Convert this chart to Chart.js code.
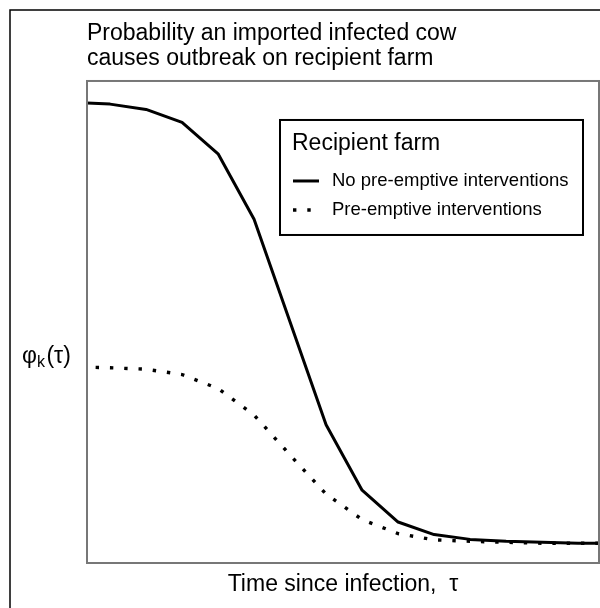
<!DOCTYPE html>
<html>
<head>
<meta charset="utf-8">
<script src="https://cdn.jsdelivr.net/npm/chart.js@4"></script>
<style>
  html, body { margin: 0; padding: 0; background: #fff; }
  #wrap { width: 600px; height: 608px; }
</style>
</head>
<body>
<div id="wrap"><canvas id="chart" width="600" height="608"></canvas></div>
<script>
// time since infection (days)
const tau = [0, 1, 2, 3, 4, 5, 6, 7, 8, 9, 10, 11, 12, 13, 14, 15];
// probability of outbreak
const noPreemptive = [0.956, 0.952, 0.941, 0.914, 0.849, 0.713, 0.500, 0.287, 0.151, 0.085, 0.059, 0.049, 0.045, 0.043, 0.041, 0.041];
const preemptive   = [0.407, 0.405, 0.402, 0.391, 0.362, 0.307, 0.224, 0.143, 0.090, 0.061, 0.048, 0.045, 0.043, 0.041, 0.041, 0.041];
const seriesLabels = ['No pre-emptive interventions', 'Pre-emptive interventions'];
const legendTitle = 'Recipient farm';
const titleLines = ['Probability an imported infected cow', 'causes outbreak on recipient farm'];
const xLabel = 'Time since infection,  \u03c4';

const FONT = "'Liberation Sans', Arial, sans-serif";

const toPoints = vals => tau.map((t, i) => ({ x: t, y: vals[i] }));

// frame, plot box, y label and legend
const decor = {
    id: 'decor',
    afterDraw(chart) {
        const ctx = chart.ctx;
        const a = chart.chartArea;
        ctx.save();

        // outer frame
        ctx.strokeStyle = '#000';
        ctx.lineWidth = 1.5;
        ctx.strokeRect(10, 10, 800, 800);

        // plot box
        ctx.strokeStyle = '#777';
        ctx.lineWidth = 2;
        ctx.strokeRect(a.left, a.top, a.right - a.left, a.bottom - a.top);

        // y label  φk(τ)
        ctx.fillStyle = '#000';
        ctx.textBaseline = 'alphabetic';
        ctx.textAlign = 'left';
        let x = 22;
        const base = 363;
        ctx.font = `23px ${FONT}`;
        ctx.fillText('\u03c6', x, base);
        x += ctx.measureText('\u03c6').width;
        ctx.font = `16px ${FONT}`;
        ctx.fillText('k', x, base + 4);
        x += ctx.measureText('k').width + 1.5;
        ctx.font = `23px ${FONT}`;
        ctx.fillText('(\u03c4)', x, base);

        // legend
        const bx = a.right - 319, by = a.top + 39, bw = 303, bh = 115;
        ctx.fillStyle = '#fff';
        ctx.fillRect(bx, by, bw, bh);
        ctx.strokeStyle = '#000';
        ctx.lineWidth = 2;
        ctx.strokeRect(bx, by, bw, bh);

        ctx.fillStyle = '#000';
        ctx.textBaseline = 'middle';
        ctx.font = `23px ${FONT}`;
        ctx.fillText(legendTitle, bx + 12, by + 24);

        ctx.font = `18.5px ${FONT}`;
        chart.data.datasets.forEach((ds, i) => {
            const y = by + 61 + i * 29;
            ctx.beginPath();
            ctx.strokeStyle = ds.borderColor;
            ctx.lineWidth = ds.borderWidth;
            ctx.lineCap = 'butt';
            ctx.setLineDash(ds.borderDash || []);
            ctx.moveTo(bx + 13, y);
            ctx.lineTo(bx + 39, y);
            ctx.stroke();
            ctx.setLineDash([]);
            ctx.fillText(ds.label, bx + 52, y);
        });

        ctx.restore();
    }
};

new Chart(document.getElementById('chart'), {
    type: 'line',
    data: {
        datasets: [
            {
                label: seriesLabels[0],
                data: toPoints(noPreemptive),
                borderColor: '#000',
                borderWidth: 3,
                borderJoinStyle: 'round',
                pointRadius: 0,
                tension: 0,
                fill: false
            },
            {
                label: seriesLabels[1],
                data: toPoints(preemptive),
                borderColor: '#000',
                borderWidth: 3.4,
                borderDash: [3.4, 10.9],
                borderDashOffset: 7,
                borderCapStyle: 'butt',
                pointRadius: 0,
                tension: 0,
                fill: false
            }
        ]
    },
    options: {
        responsive: false,
        animation: false,
        devicePixelRatio: 1,
        layout: { padding: { left: 87, right: 1, top: 0, bottom: 0 } },
        plugins: {
            legend: { display: false },
            tooltip: { enabled: false },
            title: {
                display: true,
                text: titleLines,
                align: 'start',
                color: '#000',
                font: { family: FONT, size: 23, weight: 'normal', lineHeight: 1.08 },
                padding: { top: 21.5, bottom: 9.8 }
            }
        },
        scales: {
            x: {
                type: 'linear',
                min: 0.36,
                max: 14.58,
                grid: { display: false, drawTicks: false },
                border: { display: false },
                ticks: { display: false },
                title: {
                    display: true,
                    text: xLabel,
                    color: '#000',
                    font: { family: FONT, size: 23, lineHeight: 1.2 },
                    padding: { top: 8.2, bottom: 9.2 }
                }
            },
            y: {
                display: false,
                min: 0,
                max: 1
            }
        }
    },
    plugins: [decor]
});
</script>
</body>
</html>
